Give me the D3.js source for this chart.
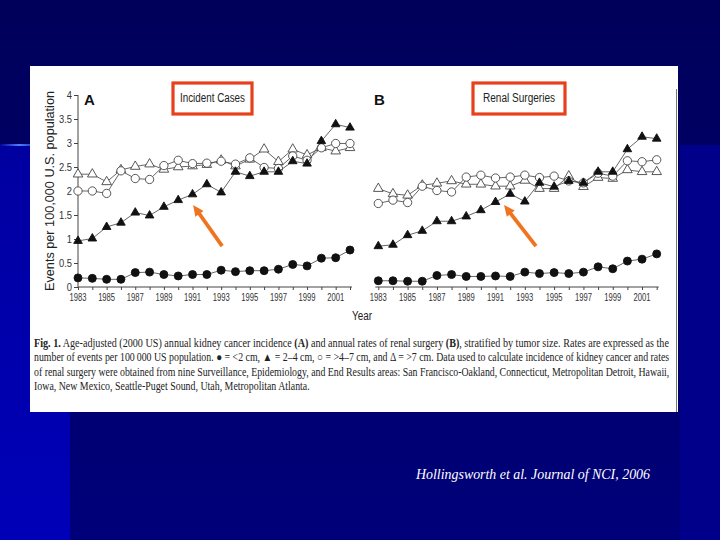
<!DOCTYPE html>
<html>
<head>
<meta charset="utf-8">
<script src="https://cdn.jsdelivr.net/npm/d3@7"></script>
<style>
  html, body { margin: 0; padding: 0; background: #000066; }
  svg { display: block; }
</style>
</head>
<body>
<div id="chart"></div>
<script>
// years on the x axis
const years = [1983, 1984, 1985, 1986, 1987, 1988, 1989, 1990, 1991, 1992,
               1993, 1994, 1995, 1996, 1997, 1998, 1999, 2000, 2001, 2002];
const yearTicks = [1983, 1985, 1987, 1989, 1991, 1993, 1995, 1997, 1999, 2001];
const rateTicks = [0, 0.5, 1, 1.5, 2, 2.5, 3, 3.5, 4];

// A: incident cases, events per 100,000
const incLt2 = [0.19, 0.18, 0.16, 0.16, 0.30, 0.31, 0.26, 0.23, 0.26, 0.26,
                0.35, 0.32, 0.34, 0.34, 0.37, 0.47, 0.44, 0.60, 0.61, 0.77];
const inc2to4 = [0.96, 1.01, 1.25, 1.34, 1.55, 1.49, 1.67, 1.81, 1.93, 2.14,
                 1.97, 2.40, 2.31, 2.40, 2.40, 2.62, 2.57, 3.04, 3.39, 3.32];
const inc4to7 = [2.00, 2.00, 1.95, 2.42, 2.26, 2.24, 2.53, 2.64, 2.57, 2.58,
                 2.62, 2.56, 2.69, 2.49, 2.47, 2.73, 2.64, 2.90, 2.99, 2.99];
const incGt7 = [2.35, 2.35, 2.19, 2.44, 2.51, 2.56, 2.45, 2.50, 2.52, 2.55,
                2.64, 2.52, 2.66, 2.87, 2.61, 2.87, 2.75, 2.90, 2.83, 2.90];

// B: renal surgeries
const surLt2 = [0.13, 0.13, 0.12, 0.12, 0.24, 0.26, 0.22, 0.22, 0.23, 0.22,
                0.31, 0.28, 0.30, 0.28, 0.31, 0.42, 0.38, 0.54, 0.58, 0.69];
const sur2to4 = [0.85, 0.88, 1.08, 1.17, 1.37, 1.37, 1.47, 1.60, 1.77, 1.94,
                 1.78, 2.17, 2.09, 2.21, 2.17, 2.40, 2.40, 2.87, 3.13, 3.09];
const sur4to7 = [1.74, 1.81, 1.76, 2.10, 2.01, 1.98, 2.29, 2.33, 2.27, 2.29,
                 2.33, 2.28, 2.31, 2.21, 2.17, 2.37, 2.31, 2.63, 2.61, 2.65];
const surGt7 = [2.05, 1.94, 1.91, 2.12, 2.16, 2.21, 2.14, 2.14, 2.10, 2.10,
                2.22, 2.05, 2.05, 2.31, 2.09, 2.28, 2.26, 2.44, 2.40, 2.40];

// orange arrows, [year, rate] of tail and tip
const arrowA = [[1993.07, 0.85], [1991.04, 1.71]];
const arrowB = [[1993.76, 0.85], [1991.58, 1.71]];

const W = 720, H = 540;
const sans = "'Liberation Sans', Arial, sans-serif";
const serif = "'Liberation Serif', 'Times New Roman', serif";

const svg = d3.select("#chart").append("svg")
    .attr("width", W).attr("height", H);

// slide background
const defs = svg.append("defs");
const bg = defs.append("linearGradient").attr("id", "bg")
    .attr("x1", 0).attr("y1", 0).attr("x2", 0).attr("y2", 1);
bg.append("stop").attr("offset", 0).attr("stop-color", "#00005a");
bg.append("stop").attr("offset", 1).attr("stop-color", "#00007a");
const side = defs.append("linearGradient").attr("id", "side")
    .attr("x1", 0).attr("y1", 0).attr("x2", 0).attr("y2", 1);
side.append("stop").attr("offset", 0).attr("stop-color", "#0000a0");
side.append("stop").attr("offset", 1).attr("stop-color", "#0000b8");
const glow = defs.append("linearGradient").attr("id", "glow");
glow.append("stop").attr("offset", 0).attr("stop-color", "#0000a0");
glow.append("stop").attr("offset", 0.6).attr("stop-color", "#5080ff");
glow.append("stop").attr("offset", 1).attr("stop-color", "#2040c0");

svg.append("rect").attr("width", W).attr("height", H).attr("fill", "url(#bg)");
svg.append("rect").attr("x", 0).attr("y", 145).attr("width", 70).attr("height", H - 145)
    .attr("fill", "url(#side)");
svg.append("rect").attr("x", 680).attr("y", 145).attr("width", 40).attr("height", H - 145)
    .attr("fill", "#00008a");
svg.append("rect").attr("x", 0).attr("y", 144).attr("width", 32).attr("height", 2)
    .attr("fill", "url(#glow)");

// the pasted figure
svg.append("rect").attr("x", 30).attr("y", 66).attr("width", 648).attr("height", 346)
    .attr("fill", "#ffffff");
svg.append("line").attr("x1", 676.5).attr("x2", 676.5).attr("y1", 89).attr("y2", 412)
    .attr("stroke", "#777").attr("stroke-width", 1);

const y = d3.scaleLinear().domain([0, 4]).range([287, 95]);

const marks = {
    lt2:  { type: d3.symbolCircle,   size: 50, fill: "#111", stroke: "#111" },
    m2to4:{ type: d3.symbolTriangle, size: 32, fill: "#111", stroke: "#111" },
    m4to7:{ type: d3.symbolCircle,   size: 54, fill: "#fff", stroke: "#444" },
    gt7:  { type: d3.symbolTriangle, size: 40, fill: "#fff", stroke: "#444" }
};

function drawPanel(x, series, showYAxis, letter, title, box, arrow) {
    const g = svg.append("g");

    // x axis
    const xAxis = g.append("g").attr("transform", `translate(0,${y(0)})`)
        .call(d3.axisBottom(x).tickValues(years).tickSize(3).tickFormat(""));
    xAxis.select(".domain").attr("d", `M${x(1983) - (showYAxis ? 0 : 3)},0H${x(2002) + 2}`);
    xAxis.selectAll("line, path").attr("stroke", "#444");
    g.selectAll(".yl").data(yearTicks).join("text")
        .attr("x", d => x(d)).attr("y", 301)
        .attr("text-anchor", "middle")
        .attr("font-family", sans).attr("font-size", 11).attr("fill", "#333")
        .attr("textLength", 17).attr("lengthAdjust", "spacingAndGlyphs")
        .text(d => d);

    if (showYAxis) {
        const yAxis = g.append("g").attr("transform", `translate(${x(1983)},0)`)
            .call(d3.axisLeft(y).tickValues(rateTicks).tickSize(4).tickFormat(""));
        yAxis.select(".domain").attr("d", `M0,${y(0)}V${y(4)}`);
        yAxis.selectAll("line, path").attr("stroke", "#444");
        g.selectAll(".tl").data(rateTicks).join("text")
            .attr("x", x(1983) - 6).attr("y", d => y(d) + 4)
            .attr("text-anchor", "end")
            .attr("font-family", sans).attr("font-size", 11).attr("fill", "#333")
            .attr("transform", d => `translate(${x(1983) - 6},0) scale(0.85,1) translate(${-(x(1983) - 6)},0)`)
            .text(d => d);
    }

    const line = d3.line().x((d, i) => x(years[i])).y(d => y(d));
    series.forEach(s => {
        const m = marks[s.mark];
        g.append("path").attr("d", line(s.values))
            .attr("fill", "none").attr("stroke", "#555").attr("stroke-width", 0.9);
        g.selectAll(null).data(s.values).join("path")
            .attr("transform", (d, i) => `translate(${x(years[i])},${y(d)})`)
            .attr("d", d3.symbol().type(m.type).size(m.size))
            .attr("fill", m.fill).attr("stroke", m.stroke).attr("stroke-width", 0.9);
    });

    // panel letter
    g.append("text").attr("x", letter.x).attr("y", 105)
        .attr("font-family", sans).attr("font-weight", "bold").attr("font-size", 15)
        .attr("fill", "#111").text(letter.t);

    // red title box
    g.append("rect").attr("x", box[0]).attr("y", 83).attr("width", box[1] - box[0]).attr("height", 31)
        .attr("fill", "none").attr("stroke", "#e8401c").attr("stroke-width", 3.2);
    g.append("text").attr("x", (box[0] + box[1]) / 2).attr("y", 102)
        .attr("text-anchor", "middle")
        .attr("font-family", sans).attr("font-size", 12).attr("fill", "#222")
        .attr("textLength", title.w).attr("lengthAdjust", "spacingAndGlyphs")
        .text(title.t);

    // orange arrow
    const [t0, t1] = arrow.map(p => [x(p[0]), y(p[1])]);
    const ang = Math.atan2(t1[1] - t0[1], t1[0] - t0[0]);
    const back = [t1[0] - 9 * Math.cos(ang), t1[1] - 9 * Math.sin(ang)];
    g.append("line").attr("x1", t0[0]).attr("y1", t0[1]).attr("x2", back[0]).attr("y2", back[1])
        .attr("stroke", "#f07420").attr("stroke-width", 3.8).attr("stroke-linecap", "butt");
    const px = -Math.sin(ang), py = Math.cos(ang);
    const hb = [t1[0] - 11 * Math.cos(ang), t1[1] - 11 * Math.sin(ang)];
    g.append("path")
        .attr("d", `M${t1[0]},${t1[1]}L${hb[0] + 5 * px},${hb[1] + 5 * py}L${hb[0] - 5 * px},${hb[1] - 5 * py}Z`)
        .attr("fill", "#f07420");
}

const xA = d3.scaleLinear().domain([1983, 2002]).range([78, 350]);
const xB = d3.scaleLinear().domain([1983, 2002]).range([378.3, 656.7]);

drawPanel(xA, [
    { mark: "gt7", values: incGt7 },
    { mark: "m4to7", values: inc4to7 },
    { mark: "m2to4", values: inc2to4 },
    { mark: "lt2", values: incLt2 }
], true, { x: 84, t: "A" }, { t: "Incident Cases", w: 65 }, [173, 252], arrowA);

drawPanel(xB, [
    { mark: "gt7", values: surGt7 },
    { mark: "m4to7", values: sur4to7 },
    { mark: "m2to4", values: sur2to4 },
    { mark: "lt2", values: surLt2 }
], false, { x: 374, t: "B" }, { t: "Renal Surgeries", w: 72 }, [473, 565], arrowB);

// axis titles
svg.append("text")
    .attr("transform", "translate(54,191) rotate(-90)")
    .attr("text-anchor", "middle")
    .attr("font-family", sans).attr("font-size", 12).attr("fill", "#222")
    .attr("textLength", 200).attr("lengthAdjust", "spacingAndGlyphs")
    .text("Events per 100,000 U.S. population");
svg.append("text").attr("x", 362).attr("y", 320)
    .attr("text-anchor", "middle")
    .attr("font-family", sans).attr("font-size", 12).attr("fill", "#222")
    .attr("textLength", 20).attr("lengthAdjust", "spacingAndGlyphs")
    .text("Year");

// caption: each line squeezed horizontally to its measured width in the figure
const cap = svg.append("g").attr("font-family", serif).attr("font-size", 11.5).attr("fill", "#222");
function capLine(yPos, target, parts) {
    const t = cap.append("text").attr("x", 0).attr("y", 0);
    parts.forEach(p => {
        const s = t.append("tspan").text(p[0]);
        if (p[1]) s.attr("font-weight", "bold");
    });
    const w = t.node().getComputedTextLength();
    t.attr("transform", `translate(34,${yPos}) scale(${target / w},1)`);
}
capLine(347, 636, [["Fig. 1.", true],
    [" Age-adjusted (2000 US) annual kidney cancer incidence "], ["(A)", true],
    [" and annual rates of renal surgery "], ["(B)", true],
    [", stratified by tumor size. Rates are expressed as the"]]);
capLine(361, 636, [["number of events per 100\u2009000 US population. \u25CF = <2 cm, \u25B2 = 2\u20134 cm, \u25CB = >4\u20137 cm, and \u0394 = >7 cm. Data used to calculate incidence of kidney cancer and rates"]]);
capLine(375.5, 636, [["of renal surgery were obtained from nine Surveillance, Epidemiology, and End Results areas: San Francisco-Oakland, Connecticut, Metropolitan Detroit, Hawaii,"]]);
capLine(390, 276, [["Iowa, New Mexico, Seattle-Puget Sound, Utah, Metropolitan Atlanta."]]);

// citation
svg.append("text").attr("x", 416).attr("y", 479)
    .attr("font-family", serif).attr("font-style", "italic").attr("font-size", 14)
    .attr("fill", "#ffffff")
    .attr("textLength", 234).attr("lengthAdjust", "spacingAndGlyphs")
    .text("Hollingsworth et al. Journal of NCI, 2006");
</script>
</body>
</html>
